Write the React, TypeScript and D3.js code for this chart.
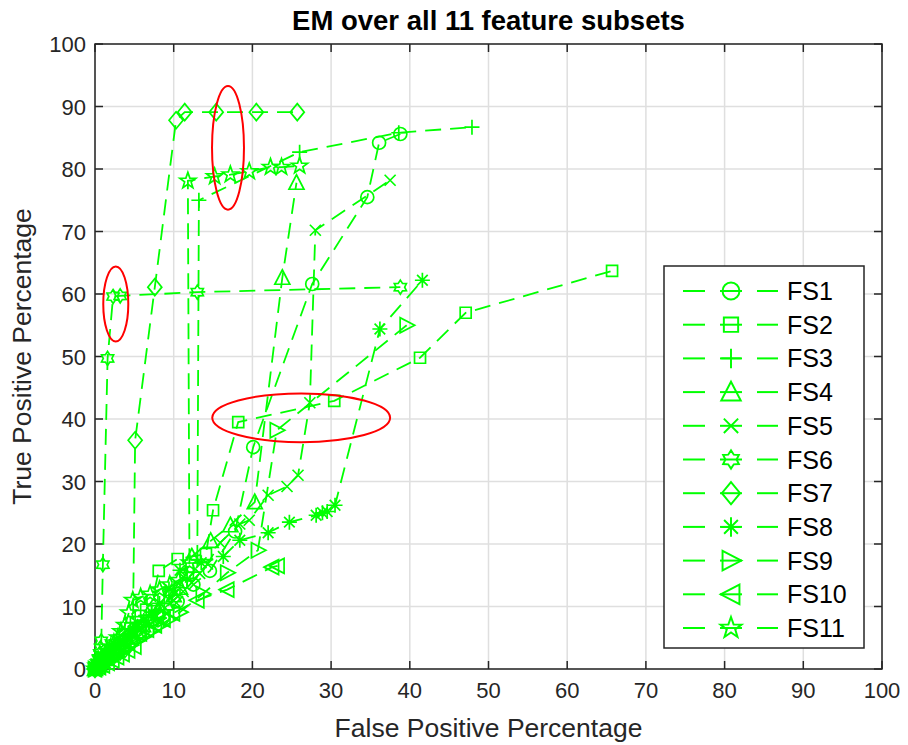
import React from "react";
import * as d3 from "d3";

const title = "EM over all 11 feature subsets";
const xLabel = "False Positive Percentage";
const yLabel = "True Positive Percentage";
const xTicks = [0, 10, 20, 30, 40, 50, 60, 70, 80, 90, 100];
const yTicks = [0, 10, 20, 30, 40, 50, 60, 70, 80, 90, 100];
const seriesNames = ["FS1", "FS2", "FS3", "FS4", "FS5", "FS6", "FS7", "FS8", "FS9", "FS10", "FS11"];
const seriesMarkers = ["circle", "square", "plus", "triUp", "x", "hexagram", "diamond", "asterisk", "triRight", "triLeft", "pentagram"];

const fs1 = [[0,0],[0.2,0.3],[0.5,0.8],[0.9,1.3],[1.2,1.8],[1.7,2.4],[2.2,3],[2.8,3.6],[3.3,4.2],[4,4.9],[4.6,5.5],[5.4,6.3],[6.2,7],[7.3,7.6],[8.6,8.2],[10.5,10.8],[12.5,13.5],[14.6,15.7],[17.8,22],[20.1,35.5],[27.6,61.6],[34.6,75.5],[36.1,84.2],[38.8,85.6]];
const fs2 = [[0,0],[0.3,0.5],[0.6,1],[1,1.6],[1.5,2.2],[2,3],[2.6,3.8],[3.2,4.6],[3.8,5.5],[4.5,6.5],[5.2,7.5],[5.8,8.5],[6.5,9.5],[7.3,11],[8.1,15.7],[10.5,17.6],[14.1,18.4],[15,25.4],[18.2,39.5],[30.4,42.9],[41.3,49.8],[47.1,57],[65.7,63.7]];
const fs3 = [[0,0],[0.2,0.3],[0.5,0.7],[0.9,1.2],[1.3,1.8],[1.8,2.5],[2.4,3.2],[3,4],[3.6,4.8],[4.3,5.6],[5,6.5],[5.9,7.4],[6.8,8.3],[7.8,9.4],[8.8,10.5],[9.8,11.8],[10.8,13],[11.7,14.2],[12.5,15.5],[13,17.5],[13.2,75],[26,82.7],[38.6,85.8],[47.9,86.7]];
const fs4 = [[0,0],[0.3,0.3],[0.6,0.6],[1,1.1],[1.4,1.6],[1.9,2.2],[2.5,2.8],[3.1,3.5],[3.8,4.3],[4.5,5.1],[5.3,6],[6.1,7],[7,8],[8,9.2],[9,10.5],[10,11.8],[10.8,13],[12.3,18],[14.7,20.5],[17.2,23],[20.3,26.7],[23.8,62.6],[25.6,77.8]];
const fs5 = [[0,0],[0.3,0.4],[0.7,0.9],[1.2,1.4],[1.7,2],[2.3,2.6],[2.9,3.3],[3.6,4],[4.3,4.8],[5.1,5.6],[5.9,6.5],[6.8,7.5],[7.8,8.5],[8.9,9.8],[10,11],[11.2,12.4],[12.3,13.8],[13.3,15.3],[14.3,16.8],[15.9,20.2],[18.4,23.2],[19.6,23.8],[22,27.8],[24.4,29.2],[25.8,31],[27.3,42.6],[28,70.2],[37.5,78.2]];
const fs6 = [[0,0],[0.15,0.4],[0.3,1],[0.45,1.7],[0.6,2.5],[0.7,3.4],[0.8,4.5],[1,16.7],[1.6,49.7],[2.3,59.6],[3.2,59.7],[13,60.3],[38.8,61.1]];
const fs7 = [[0,0],[0.3,0.4],[0.6,0.8],[1,1.2],[1.5,1.6],[2,2],[2.6,2.4],[3.2,2.8],[3.8,3.2],[4.3,3.8],[4.8,4.5],[5.1,36.6],[7.6,61.1],[10.3,87.8],[11.4,89.1],[15.4,89.1],[20.5,89.1],[25.7,89.1]];
const fs8 = [[0,0],[0.3,0.5],[0.7,1],[1.2,1.6],[1.7,2.3],[2.3,3.1],[3,3.9],[3.7,4.8],[4.5,5.7],[5.3,6.7],[6.2,7.8],[7.2,9.1],[8.2,10.5],[9.4,12.8],[10.8,15.8],[13.5,17],[16.3,18],[18.4,20.6],[22,21.8],[24.7,23.5],[28.1,24.6],[28.9,25],[29.5,25.2],[30.5,26.2],[36.2,54.4],[41.6,62.2]];
const fs9 = [[0,0],[0.4,0.3],[0.8,0.6],[1.3,1],[1.9,1.5],[2.5,2],[3.1,2.6],[3.8,3.2],[4.5,3.8],[5.3,4.5],[6.2,5.2],[7.2,6.1],[8.3,7],[9.5,8],[10.8,9.1],[13.7,12],[16.8,15.4],[20.7,19],[23.1,38.2],[39.6,55]];
const fs10 = [[0,0],[0.5,0.3],[1,0.6],[1.6,1],[2.2,1.4],[2.8,1.9],[3.5,2.4],[4.2,3],[5,3.6],[5.7,5.7],[6.6,6.3],[7.6,7],[8.7,7.9],[9.9,8.9],[13,11],[16.8,12.7],[22.5,16.3],[23.2,16.5]];
const fs11 = [[0,0],[0.2,0.5],[0.5,1],[0.8,1.6],[1.2,2.2],[1.6,2.8],[2,3.5],[2.4,4.2],[2.9,5],[3.3,6],[3.8,7],[4.3,9],[4.8,11],[5.8,11.5],[7,12],[8.2,12.7],[9.5,13.5],[10.6,14.2],[11.6,15],[12,17],[11.8,78.1],[15.2,78.8],[17.2,79.1],[19.6,79.6],[22.3,80.3],[23.7,80.3],[26,80.5]];
const allSeries = [fs1, fs2, fs3, fs4, fs5, fs6, fs7, fs8, fs9, fs10, fs11];

// red annotation ellipses: [cx, cy, rx, ry] in data units
const highlights = [[16.9, 83.4, 2.03, 9.9], [2.64, 58.4, 1.59, 6.0], [26.2, 40.2, 11.3, 3.9]];

const GREEN = "#00ff00";
const AX = "#262626";
const FONT = "'Liberation Sans', Arial, Helvetica, sans-serif";

function starPath(n: number, ro: number, ri: number) {
  const pts: string[] = [];
  for (let i = 0; i < 2 * n; i++) {
    const r = i % 2 === 0 ? ro : ri;
    const a = -Math.PI / 2 + (i * Math.PI) / n;
    pts.push(`${(r * Math.cos(a)).toFixed(2)},${(r * Math.sin(a)).toFixed(2)}`);
  }
  return "M" + pts.join("L") + "Z";
}

function markerPath(type: string) {
  switch (type) {
    case "circle": return "M6.5,0A6.5,6.5 0 1,1 -6.5,0A6.5,6.5 0 1,1 6.5,0Z";
    case "square": return "M-5.5,-5.5H5.5V5.5H-5.5Z";
    case "plus": return "M-7.5,0H7.5M0,-7.5V7.5";
    case "triUp": return "M0,-8L7.5,6.5L-7.5,6.5Z";
    case "x": return "M-5.5,-5.5L5.5,5.5M-5.5,5.5L5.5,-5.5";
    case "hexagram": return starPath(6, 7, 4.3);
    case "diamond": return "M0,-8.5L7,0L0,8.5L-7,0Z";
    case "asterisk": return "M-7.5,0H7.5M0,-7.5V7.5M-5.3,-5.3L5.3,5.3M-5.3,5.3L5.3,-5.3";
    case "triRight": return "M8,0L-6.5,-7.5L-6.5,7.5Z";
    case "triLeft": return "M-8,0L6.5,-7.5L6.5,7.5Z";
    case "pentagram": return starPath(5, 8.5, 3.4);
  }
  return "";
}

export default function App() {
  const W = 908, H = 745;
  const x = d3.scaleLinear().domain([0, 100]).range([95, 882]);
  const y = d3.scaleLinear().domain([0, 100]).range([669, 44]);
  const line = d3.line<number[]>().x((d) => x(d[0])).y((d) => y(d[1]));
  const tick = 8;

  const legend = { x0: 664, y0: 266, x1: 864, y1: 648, row0: 291, step: 33.7 };

  return (
    <div style={{ position: "absolute", left: 0, top: 0 }}>
      <svg width={W} height={H} style={{ display: "block", background: "#fff" }} fontFamily={FONT}>
        <rect x={0} y={0} width={W} height={H} fill="#fff" />
        {/* grid */}
        <g stroke="#dfdfdf" strokeWidth={1.5}>
          {xTicks.map((t) => (
            <line key={"gx" + t} x1={x(t)} x2={x(t)} y1={y(0)} y2={y(100)} />
          ))}
          {yTicks.map((t) => (
            <line key={"gy" + t} y1={y(t)} y2={y(t)} x1={x(0)} x2={x(100)} />
          ))}
        </g>
        {/* axes box + ticks */}
        <g stroke={AX} strokeWidth={1.5} fill="none">
          <rect x={x(0)} y={y(100)} width={x(100) - x(0)} height={y(0) - y(100)} />
          {xTicks.map((t) => (
            <g key={"tx" + t}>
              <line x1={x(t)} x2={x(t)} y1={y(0)} y2={y(0) - tick} />
              <line x1={x(t)} x2={x(t)} y1={y(100)} y2={y(100) + tick} />
            </g>
          ))}
          {yTicks.map((t) => (
            <g key={"ty" + t}>
              <line y1={y(t)} y2={y(t)} x1={x(0)} x2={x(0) + tick} />
              <line y1={y(t)} y2={y(t)} x1={x(100)} x2={x(100) - tick} />
            </g>
          ))}
        </g>
        {/* tick labels */}
        <g fill={AX} fontSize={22}>
          {xTicks.map((t) => (
            <text key={"lx" + t} x={x(t)} y={698} textAnchor="middle">{t}</text>
          ))}
          {yTicks.map((t) => (
            <text key={"ly" + t} x={86} y={y(t) + 8} textAnchor="end">{t}</text>
          ))}
        </g>
        {/* axis labels & title */}
        <text x={(x(0) + x(100)) / 2} y={737} textAnchor="middle" fontSize={26.5} fill={AX}>{xLabel}</text>
        <text transform={`translate(31,${(y(0) + y(100)) / 2}) rotate(-90)`} textAnchor="middle" fontSize={26.5} fill={AX}>{yLabel}</text>
        <text x={(x(0) + x(100)) / 2} y={30} textAnchor="middle" fontSize={27.5} fontWeight="bold" fill="#000">{title}</text>

        {/* series */}
        {allSeries.map((s, i) => (
          <g key={"s" + i}>
            <path d={line(s) || ""} fill="none" stroke={GREEN} strokeWidth={1.8} strokeDasharray="16,9" />
            {s.map((p, j) => (
              <path key={j} d={markerPath(seriesMarkers[i])} transform={`translate(${x(p[0])},${y(p[1])})`} fill="none" stroke={GREEN} strokeWidth={1.7} />
            ))}
          </g>
        ))}

        {/* legend */}
        <rect x={legend.x0} y={legend.y0} width={legend.x1 - legend.x0} height={legend.y1 - legend.y0} fill="#fff" stroke={AX} strokeWidth={1.5} />
        {seriesNames.map((name, i) => {
          const ry = legend.row0 + i * legend.step;
          return (
            <g key={"lg" + i}>
              <g stroke={GREEN} strokeWidth={2}>
                <line x1={683} x2={705} y1={ry} y2={ry} />
                <line x1={720} x2={742} y1={ry} y2={ry} />
                <line x1={757} x2={778} y1={ry} y2={ry} />
              </g>
              <path d={markerPath(seriesMarkers[i])} transform={`translate(731,${ry}) scale(1.3)`} fill="none" stroke={GREEN} strokeWidth={1.5} />
              <text x={787} y={ry + 9} fontSize={25} fill="#000">{name}</text>
            </g>
          );
        })}

        {/* highlight ellipses */}
        {highlights.map((h, i) => (
          <ellipse key={"e" + i} cx={x(h[0])} cy={y(h[1])} rx={x(h[0] + h[2]) - x(h[0])} ry={y(h[1]) - y(h[1] + h[3])} fill="none" stroke="#ff0000" strokeWidth={2} />
        ))}
      </svg>
    </div>
  );
}
